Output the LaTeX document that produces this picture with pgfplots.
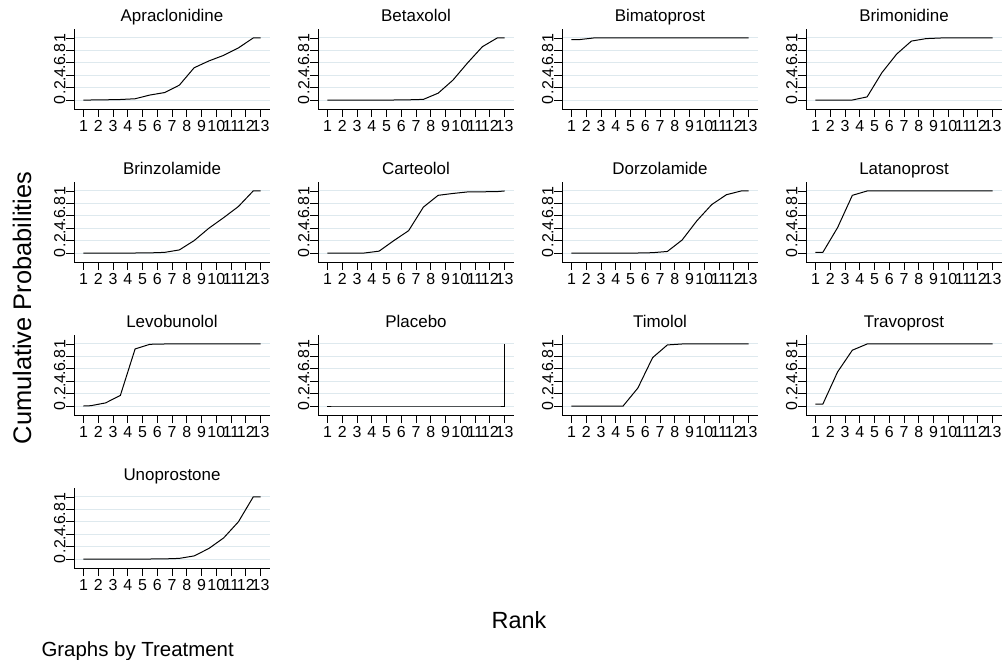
\documentclass[border=0pt]{standalone}
\usepackage{pgfplots}
\pgfplotsset{compat=1.18}
\usepackage{fontspec}
\setmainfont{Liberation Sans}
\definecolor{gridc}{RGB}{222,233,238}
\pgfplotsset{common/.style={
 scale only axis, width=196bp, height=80bp,
 xmin=0.36, xmax=13.64, ymin=-0.145, ymax=1.145,
 axis x line*=bottom, axis y line*=left,
 axis line style={-, black, line width=0.8bp},
 xtick={1,...,13}, xticklabels={1,2,3,4,5,6,7,8,9,10,11,12,13},
 ytick={0,0.2,0.4,0.6,0.8,1}, yticklabels={0,.2,.4,.6,.8,1},
 tick align=outside, major tick length=8bp, tick style={black, line width=0.8bp},
 ymajorgrids, major grid style={gridc, line width=1bp},
 ticklabel style={font=\fontsize{16}{16}\selectfont},
 xticklabel style={inner sep=3.5bp},
 yticklabel style={rotate=90, anchor=south, inner sep=0.5bp},
 every axis title/.style={font=\fontsize{17}{17}\selectfont, at={(0.5,1)}, anchor=base, yshift=7bp},
}}
\newcommand{\panel}[4]{%
\begin{axis}[common, at={(#1bp,#2bp)}, anchor=south west, title={#3}]
\addplot[black, line width=1bp] coordinates {#4};
\end{axis}}
\begin{document}
\begin{tikzpicture}
\path[use as bounding box] (0,0) rectangle (1007bp,660bp);
% Row 1
\panel{74}{551}{Apraclonidine}{(1,0) (1.5,0) (2.5,0.003) (3.5,0.008) (4.5,0.02) (5.5,0.08) (6.5,0.12) (7.5,0.24) (8.5,0.52) (9.5,0.63) (10.5,0.72) (11.5,0.84) (12.5,1) (13,1)}
\panel{318}{551}{Betaxolol}{(1,0) (1.5,0) (2.5,0) (3.5,0) (4.5,0) (5.5,0) (6.5,0.003) (7.5,0.01) (8.5,0.11) (9.5,0.32) (10.5,0.6) (11.5,0.86) (12.5,1) (13,1)}
\panel{562}{551}{Bimatoprost}{(1,0.973) (1.5,0.973) (2.5,1) (3.5,1) (4.5,1) (5.5,1) (6.5,1) (7.5,1) (8.5,1) (9.5,1) (10.5,1) (11.5,1) (12.5,1) (13,1)}
\panel{806}{551}{Brimonidine}{(1,0) (1.5,0) (2.5,0) (3.5,0) (4.5,0.05) (5.5,0.44) (6.5,0.74) (7.5,0.95) (8.5,0.99) (9.5,1) (10.5,1) (11.5,1) (12.5,1) (13,1)}
% Row 2
\panel{74}{398}{Brinzolamide}{(1,0) (1.5,0) (2.5,0) (3.5,0) (4.5,0) (5.5,0.002) (6.5,0.01) (7.5,0.05) (8.5,0.2) (9.5,0.4) (10.5,0.57) (11.5,0.75) (12.5,1) (13,1)}
\panel{318}{398}{Carteolol}{(1,0) (1.5,0) (2.5,0) (3.5,0) (4.5,0.03) (5.5,0.2) (6.5,0.36) (7.5,0.74) (8.5,0.93) (9.5,0.96) (10.5,0.985) (11.5,0.987) (12.5,0.99) (13,1)}
\panel{562}{398}{Dorzolamide}{(1,0) (1.5,0) (2.5,0) (3.5,0) (4.5,0) (5.5,0) (6.5,0.005) (7.5,0.025) (8.5,0.21) (9.5,0.52) (10.5,0.78) (11.5,0.94) (12.5,1) (13,1)}
\panel{806}{398}{Latanoprost}{(1,0.01) (1.5,0.01) (2.5,0.41) (3.5,0.93) (4.5,1) (5.5,1) (6.5,1) (7.5,1) (8.5,1) (9.5,1) (10.5,1) (11.5,1) (12.5,1) (13,1)}
% Row 3
\panel{74}{245}{Levobunolol}{(1,0) (1.5,0.005) (2.5,0.05) (3.5,0.17) (4.5,0.92) (5.5,0.995) (6.5,1) (7.5,1) (8.5,1) (9.5,1) (10.5,1) (11.5,1) (12.5,1) (13,1)}
\panel{318}{245}{Placebo}{(1,0) (1.5,0) (2.5,0) (3.5,0) (4.5,0) (5.5,0) (6.5,0) (7.5,0) (8.5,0) (9.5,0) (10.5,0) (11.5,0) (12.5,0) (13,0) (13,1)}
\panel{562}{245}{Timolol}{(1,0) (1.5,0) (2.5,0) (3.5,0) (4.5,0) (5.5,0.29) (6.5,0.78) (7.5,0.985) (8.5,1) (9.5,1) (10.5,1) (11.5,1) (12.5,1) (13,1)}
\panel{806}{245}{Travoprost}{(1,0.03) (1.5,0.03) (2.5,0.55) (3.5,0.9) (4.5,1) (5.5,1) (6.5,1) (7.5,1) (8.5,1) (9.5,1) (10.5,1) (11.5,1) (12.5,1) (13,1)}
% Row 4
\panel{74}{92}{Unoprostone}{(1,0) (1.5,0) (2.5,0) (3.5,0) (4.5,0) (5.5,0) (6.5,0.002) (7.5,0.01) (8.5,0.05) (9.5,0.17) (10.5,0.34) (11.5,0.6) (12.5,1) (13,1)}
\node[rotate=90, font=\fontsize{25.5}{25.5}\selectfont] at (22bp,352bp) {Cumulative Probabilities};
\node[font=\fontsize{23.5}{23.5}\selectfont] at (519bp,40bp) {Rank};
\node[anchor=west, font=\fontsize{20.5}{20.5}\selectfont] at (38bp,9bp) {Graphs by Treatment};
\end{tikzpicture}
\end{document}
